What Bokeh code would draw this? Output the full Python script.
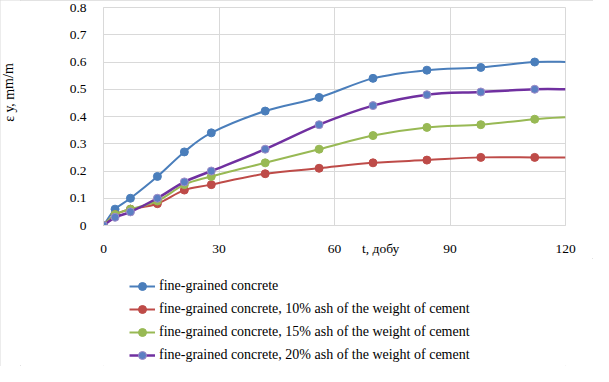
from bokeh.plotting import figure
from bokeh.layouts import column, row
from bokeh.models import (ColumnDataSource, Legend, LegendItem, FixedTicker,
                          Range1d)
from bokeh.core.properties import value
from bokeh.embed import file_html
from bokeh.resources import INLINE

# ---- data ----
days = [0, 3, 7, 14, 21, 28, 42, 56, 70, 84, 98, 112, 120]
fine = [0, 0.06, 0.10, 0.18, 0.27, 0.34, 0.42, 0.47, 0.54, 0.57, 0.58, 0.60, 0.60]
ash10 = [0, 0.04, 0.06, 0.08, 0.13, 0.15, 0.19, 0.21, 0.23, 0.24, 0.25, 0.25, 0.25]
ash15 = [0, 0.04, 0.06, 0.09, 0.15, 0.18, 0.23, 0.28, 0.33, 0.36, 0.37, 0.39, 0.397]
ash20 = [0, 0.03, 0.05, 0.10, 0.16, 0.20, 0.28, 0.37, 0.44, 0.48, 0.49, 0.50, 0.50]
series_names = [
    "fine-grained concrete",
    "fine-grained concrete, 10% ash of the weight of cement",
    "fine-grained concrete, 15% ash of the weight of cement",
    "fine-grained concrete, 20% ash of the weight of cement",
]
x_ticks = [0, 30, 60, 90, 120]
y_ticks = [0, 0.1, 0.2, 0.3, 0.4, 0.5, 0.6, 0.7, 0.8]
y_tick_labels = ["0", "0.1", "0.2", "0.3", "0.4", "0.5", "0.6", "0.7", "0.8"]
x_title = "t, добу"
x_title_at = 72
y_title = "ε у, mm/m"

FONT = "Liberation Serif"
W_T, W, H, H_TOP = 20, 573, 366, 258
H_LEG = H - H_TOP
BL, BR = 83, 28

p = figure(width=W, height=H_TOP, output_backend="svg", toolbar_location=None,
           x_range=Range1d(0, 120), y_range=Range1d(0, 0.8),
           min_border_left=BL, min_border_right=BR, min_border_top=7,
           min_border_bottom=28)
p.outline_line_color = "#d9d9d9"
p.background_fill_color = "white"
p.border_fill_color = "white"

p.xgrid.ticker = FixedTicker(ticks=x_ticks)
p.ygrid.ticker = FixedTicker(ticks=y_ticks)
p.xgrid.grid_line_color = "#d9d9d9"
p.ygrid.grid_line_color = "#d9d9d9"

for ax in (p.xaxis[0], p.yaxis[0]):
    ax.major_tick_line_color = None
    ax.minor_tick_line_color = None
    ax.axis_line_color = "#d9d9d9"
    ax.major_label_text_font = FONT
    ax.major_label_text_font_size = "13.5px"
    ax.major_label_text_color = "black"
p.xaxis[0].ticker = FixedTicker(ticks=x_ticks + [x_title_at])
p.xaxis[0].major_label_overrides = {x_title_at: x_title}
p.yaxis[0].ticker = FixedTicker(ticks=y_ticks)
p.yaxis[0].major_label_overrides = {t: l for t, l in zip(y_ticks, y_tick_labels)}
p.xaxis[0].major_label_standoff = 9
p.yaxis[0].major_label_standoff = 11


def smooth_segments(xs, ys):
    n = len(xs)
    x0, y0, x1, y1, cx0, cy0, cx1, cy1 = ([] for _ in range(8))
    for i in range(n - 1):
        pxm = xs[i - 1] if i > 0 else xs[i]
        pym = ys[i - 1] if i > 0 else ys[i]
        pxp = xs[i + 2] if i + 2 < n else xs[i + 1]
        pyp = ys[i + 2] if i + 2 < n else ys[i + 1]
        x0.append(xs[i]); y0.append(ys[i])
        x1.append(xs[i + 1]); y1.append(ys[i + 1])
        cx0.append(xs[i] + (xs[i + 1] - pxm) / 6.0)
        cy0.append(ys[i] + (ys[i + 1] - pym) / 6.0)
        cx1.append(xs[i + 1] - (pxp - xs[i]) / 6.0)
        cy1.append(ys[i + 1] - (pyp - ys[i]) / 6.0)
    return dict(x0=x0, y0=y0, x1=x1, y1=y1, cx0=cx0, cy0=cy0, cx1=cx1, cy1=cy1)


styles = [
    (fine, "#4a7ebb", 2, "#4a7ebb", "#4a7ebb"),
    (ash10, "#be4b48", 2, "#be4b48", "#be4b48"),
    (ash15, "#98b954", 2, "#98b954", "#98b954"),
    (ash20, "#7030a0", 2.5, "#5b7fc3", "#a08cc8"),
]

# legend panel (separate figure below the chart)
lg = figure(width=W, height=H_LEG, output_backend="svg", toolbar_location=None,
            x_range=Range1d(0, 120), y_range=Range1d(0, 0.8),
            min_border_left=BL, min_border_right=BR, min_border_top=0,
            min_border_bottom=0)
lg.axis.visible = False
lg.grid.visible = False
lg.outline_line_color = None
lg.background_fill_color = "white"
lg.border_fill_color = "white"

items = []
for (vals, lc, lw, mf, ml), name in zip(styles, series_names):
    src = ColumnDataSource(smooth_segments(days, vals))
    p.bezier(x0="x0", y0="y0", x1="x1", y1="y1", cx0="cx0", cy0="cy0",
             cx1="cx1", cy1="cy1", source=src, line_color=lc, line_width=lw)
    msrc = ColumnDataSource(dict(x=days[:-1], y=vals[:-1]))
    p.scatter("x", "y", source=msrc, size=8, fill_color=mf, line_color=ml,
              line_width=1)
    l_line = lg.line(x=days, y=vals, line_color=lc, line_width=lw, visible=False)
    l_mark = lg.scatter(x=days[:-1], y=vals[:-1], size=8, fill_color=mf,
                        line_color=ml, line_width=1, visible=False)
    items.append(LegendItem(label=name, renderers=[l_line, l_mark]))

legend = Legend(items=items, location=(26, 1), orientation="vertical",
                label_text_font=FONT, label_text_font_size="14px",
                label_text_color="black", glyph_width=26, glyph_height=20,
                label_height=20, spacing=3, padding=0, margin=0,
                label_standoff=4, border_line_color=None,
                background_fill_alpha=0, click_policy="none")
lg.add_layout(legend, "center")

# y-axis title panel (narrow figure on the left)
yt = figure(width=W_T, height=H, output_backend="svg", toolbar_location=None,
            x_range=Range1d(0, W_T), y_range=Range1d(0, H),
            min_border_left=0, min_border_right=0, min_border_top=0,
            min_border_bottom=0)
yt.axis.visible = False
yt.grid.visible = False
yt.outline_line_color = None
yt.background_fill_color = "white"
yt.border_fill_color = "white"
yt.text(x=[8.5], y=[H - 92], text=[y_title], angle=1.5708,
        text_font=value(FONT), text_font_size="14px", text_color="black",
        text_align="center", text_baseline="middle")

layout = row(yt, column(p, lg, spacing=0), spacing=0,
             styles={"outline": "1px solid #d9d9d9", "outline-offset": "-1px"})

open("out.html", "w").write(file_html(layout, INLINE))
